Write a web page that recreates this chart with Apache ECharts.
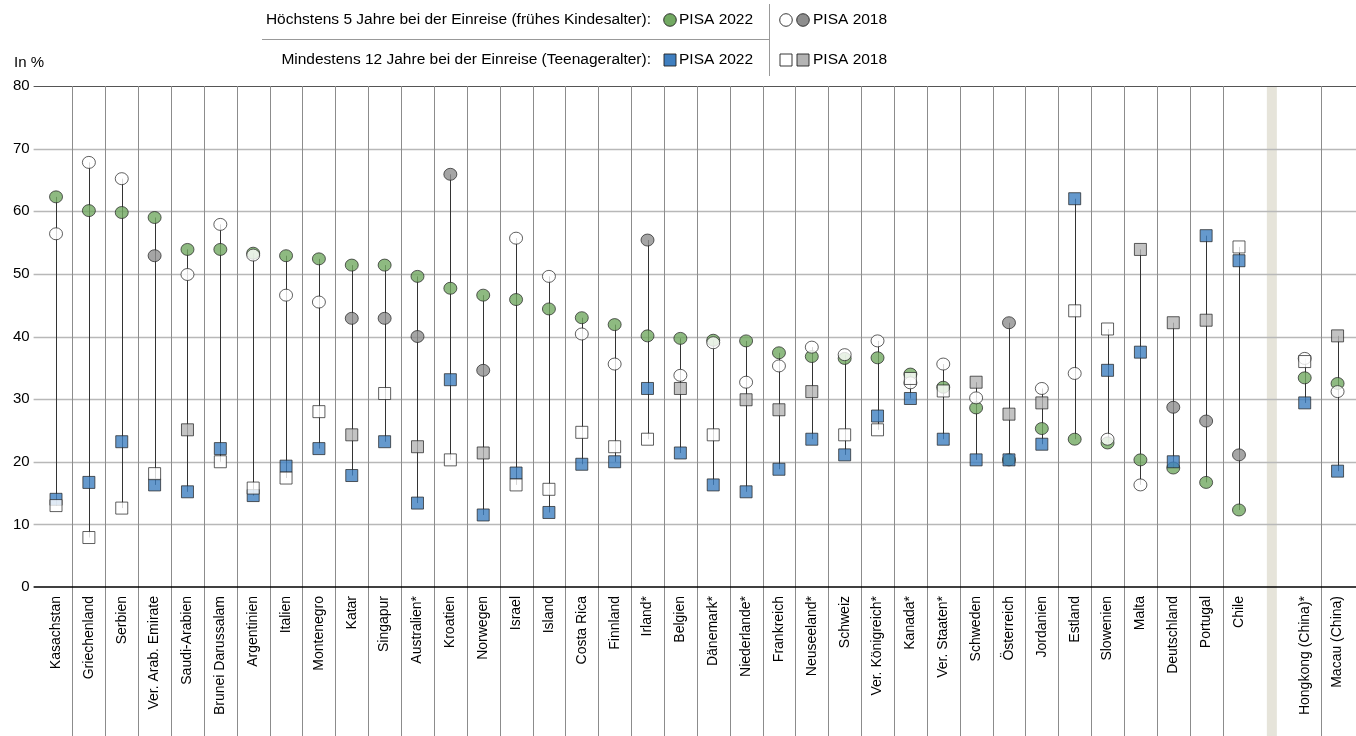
<!DOCTYPE html>
<html><head><meta charset="utf-8">
<script src="https://cdn.jsdelivr.net/npm/echarts@6/dist/echarts.min.js"></script>
<style>html,body{margin:0;padding:0;background:#fff}#c{width:1356px;height:736px}</style>
</head><body><div id="c"></div>
<script>
// ---------- DATA ----------
const categories = ['Kasachstan','Griechenland','Serbien','Ver. Arab. Emirate','Saudi-Arabien','Brunei Darussalam','Argentinien','Italien','Montenegro','Katar','Singapur','Australien*','Kroatien','Norwegen','Israel','Island','Costa Rica','Finnland','Irland*','Belgien','Dänemark*','Niederlande*','Frankreich','Neuseeland*','Schweiz','Ver. Königreich*','Kanada*','Ver. Staaten*','Schweden','Österreich','Jordanien','Estland','Slowenien','Malta','Deutschland','Portugal','Chile','','Hongkong (China)*','Macau (China)'];

// Höchstens 5 Jahre bei der Einreise – PISA 2022 (green circle)
const early2022 = [62.3,60.1,59.8,59.0,53.9,53.9,53.3,52.9,52.4,51.4,51.4,49.6,47.7,46.6,45.9,44.4,43.0,41.9,40.1,39.7,39.4,39.3,37.4,36.8,36.5,36.6,34.0,31.9,28.6,20.3,25.3,23.6,23.0,20.3,19.0,16.7,12.3,null,33.4,32.5];
// Höchstens 5 Jahre – PISA 2018 (circle)
const early2018 = [56.4,67.8,65.2,52.9,49.9,57.9,53.0,46.6,45.5,42.9,42.9,40.0,65.9,34.6,55.7,49.6,40.4,35.6,55.4,33.8,39.0,32.7,35.3,38.3,37.1,39.3,32.6,35.6,30.2,42.2,31.7,34.1,23.6,16.3,28.7,26.5,21.1,null,36.5,31.2];
// 1 = grey (filled) marker, 0 = white marker
const early2018Grey = [0,0,0,1,0,0,0,0,0,1,1,1,1,1,0,0,0,0,1,0,0,0,0,0,0,0,0,0,0,1,0,0,0,0,1,1,1,0,0,0];
// Mindestens 12 Jahre bei der Einreise – PISA 2022 (blue square)
const teen2022 = [14.0,16.7,23.2,16.3,15.2,22.1,14.6,19.3,22.1,17.8,23.2,13.4,33.1,11.5,18.2,11.9,19.6,20.0,31.7,21.4,16.3,15.2,18.8,23.6,21.1,27.3,30.1,23.6,20.3,20.3,22.8,62.0,34.6,37.5,20.0,56.1,52.1,null,29.4,18.5];
// Mindestens 12 Jahre – PISA 2018 (square)
const teen2018 = [13.0,7.9,12.6,18.1,25.1,20.0,15.8,17.4,28.0,24.3,30.9,22.4,20.3,21.4,16.3,15.6,24.7,22.4,23.6,31.7,24.3,29.9,28.3,31.2,24.3,25.1,33.3,31.3,32.7,27.6,29.4,44.1,41.2,53.9,42.2,42.6,54.3,null,36.0,40.1];
const teen2018Grey = [0,0,0,0,1,0,0,0,0,1,0,1,0,1,0,0,0,0,0,1,0,1,1,1,0,0,0,0,1,1,1,0,0,1,1,1,0,0,0,1];

const yMin = 0, yMax = 80, yStep = 10;
const yTicks = [0, 10, 20, 30, 40, 50, 60, 70, 80];

// ---------- STYLE ----------
const FONT = '"Liberation Sans", Arial, sans-serif';
const GREEN = '#72a962', BLUE = '#3f7fc0', GREY_C = '#8e8e8e', GREY_S = '#b4b4b4', EDGE = '#222';
const gapIndex = categories.indexOf('');

function pts(vals, grey, onCol, offCol) {
  return vals.map((v, i) => v == null ? null : {
    value: [i, v],
    itemStyle: { color: grey ? (grey[i] ? onCol : offCol) : onCol }
  });
}
const rangeData = [];
categories.forEach((c, i) => {
  const vs = [early2022[i], early2018[i], teen2022[i], teen2018[i]].filter(v => v != null);
  if (vs.length) rangeData.push([i, Math.min(...vs), Math.max(...vs)]);
});
const boundaryData = [];
categories.forEach((c, i) => {
  if (i === 0) return;
  if (i === gapIndex || i === gapIndex + 1) return;
  boundaryData.push([i, yMax]);
});
const hLineData = yTicks.filter(v => v !== yMin).map(v => [0, v]);

const chart = echarts.init(document.getElementById('c'), null, { renderer: 'canvas' });

const markerBase = { type: 'scatter', symbolSize: 12, animation: false, itemStyle: { borderColor: EDGE, borderWidth: 0.9 } };
const LF = '15.5px ' + FONT;

chart.setOption({
  animation: false,
  textStyle: { fontFamily: FONT },
  grid: { left: 39.6, right: 2, top: 86, bottom: 149, containLabel: false },
  xAxis: {
    type: 'category', data: categories, boundaryGap: true,
    axisLine: { show: false },
    axisTick: { show: false },
    splitLine: { show: false },
    axisLabel: { interval: 0, rotate: 90, fontSize: 14, color: '#000', margin: 9, fontFamily: FONT }
  },
  yAxis: {
    type: 'value', min: yMin, max: yMax, interval: yStep,
    axisLine: { show: false }, axisTick: { show: false },
    axisLabel: { fontSize: 15, color: '#000', margin: 10, fontFamily: FONT },
    splitLine: { show: false }
  },
  graphic: [
    { type: 'text', left: 14, top: 55, style: { text: 'In %', font: '15px ' + FONT, fill: '#000' } },
    // legend row 1
    { type: 'text', x: 651, y: 20, style: { text: 'Höchstens 5 Jahre bei der Einreise (frühes Kindesalter):', font: LF, fill: '#000', align: 'right', verticalAlign: 'middle' } },
    { type: 'circle', shape: { cx: 670, cy: 20, r: 6.3 }, style: { fill: GREEN, stroke: EDGE, lineWidth: 0.9 } },
    { type: 'text', x: 679, y: 20, style: { text: 'PISA 2022', font: LF, fill: '#000', verticalAlign: 'middle' } },
    { type: 'circle', shape: { cx: 786, cy: 20, r: 6.3 }, style: { fill: '#fff', stroke: EDGE, lineWidth: 0.9 } },
    { type: 'circle', shape: { cx: 803, cy: 20, r: 6.3 }, style: { fill: GREY_C, stroke: EDGE, lineWidth: 0.9 } },
    { type: 'text', x: 813, y: 20, style: { text: 'PISA 2018', font: LF, fill: '#000', verticalAlign: 'middle' } },
    // separators
    { type: 'line', shape: { x1: 262, y1: 39.5, x2: 769, y2: 39.5 }, style: { stroke: '#999', lineWidth: 1 } },
    { type: 'line', shape: { x1: 769.5, y1: 4, x2: 769.5, y2: 76 }, style: { stroke: '#999', lineWidth: 1 } },
    // legend row 2
    { type: 'text', x: 651, y: 60, style: { text: 'Mindestens 12 Jahre bei der Einreise (Teenageralter):', font: LF, fill: '#000', align: 'right', verticalAlign: 'middle' } },
    { type: 'rect', shape: { x: 664, y: 54, width: 12, height: 12 }, style: { fill: BLUE, stroke: EDGE, lineWidth: 0.9 } },
    { type: 'text', x: 679, y: 60, style: { text: 'PISA 2022', font: LF, fill: '#000', verticalAlign: 'middle' } },
    { type: 'rect', shape: { x: 780, y: 54, width: 12, height: 12 }, style: { fill: '#fff', stroke: EDGE, lineWidth: 0.9 } },
    { type: 'rect', shape: { x: 797, y: 54, width: 12, height: 12 }, style: { fill: GREY_S, stroke: EDGE, lineWidth: 0.9 } },
    { type: 'text', x: 813, y: 60, style: { text: 'PISA 2018', font: LF, fill: '#000', verticalAlign: 'middle' } }
  ],
  series: [
    { // gap band
      type: 'custom', z: 1, clip: false, silent: true,
      data: [[gapIndex, yMax]],
      renderItem: (params, api) => {
        const c = api.coord([api.value(0), api.value(1)]);
        return { type: 'rect', shape: { x: c[0] - 5, y: c[1], width: 10, height: api.getHeight() - c[1] }, style: { fill: '#e6e4da' } };
      }
    },
    { // horizontal grid lines
      type: 'custom', z: 1.5, clip: false, silent: true,
      data: hLineData,
      renderItem: (params, api) => {
        const c = api.coord([api.value(0), api.value(1)]);
        const w = api.size([1, 0])[0];
        const y = Math.round(c[1]) + 0.5;
        const top = api.value(1) === yMax;
        return { type: 'line', shape: { x1: c[0] - w / 2 - 6, y1: y, x2: api.getWidth(), y2: y }, style: { stroke: top ? '#555' : '#b8b8b8', lineWidth: top ? 1.2 : 1.6 } };
      }
    },
    { // category boundaries
      type: 'custom', z: 2, clip: false, silent: true,
      data: boundaryData,
      renderItem: (params, api) => {
        const c = api.coord([api.value(0), api.value(1)]);
        const w = api.size([1, 0])[0];
        const x = Math.round(c[0] - w / 2) + 0.5;
        return { type: 'line', shape: { x1: x, y1: c[1], x2: x, y2: api.getHeight() }, style: { stroke: '#8c8c8c', lineWidth: 1 } };
      }
    },
    { // zero axis line
      type: 'custom', z: 2.5, clip: false, silent: true,
      data: [[0, yMin]],
      renderItem: (params, api) => {
        const c = api.coord([api.value(0), api.value(1)]);
        const w = api.size([1, 0])[0];
        return { type: 'line', shape: { x1: c[0] - w / 2 - 6, y1: c[1], x2: api.getWidth(), y2: c[1] }, style: { stroke: '#000', lineWidth: 1.5 } };
      }
    },
    { // range lines
      type: 'custom', z: 3, silent: true,
      data: rangeData,
      encode: { x: 0, y: [1, 2] },
      renderItem: (params, api) => {
        const p1 = api.coord([api.value(0), api.value(1)]);
        const p2 = api.coord([api.value(0), api.value(2)]);
        const x = Math.round(p1[0]) + 0.5;
        return { type: 'line', shape: { x1: x, y1: p1[1], x2: x, y2: p2[1] }, style: { stroke: '#333', lineWidth: 1 } };
      }
    },
    Object.assign({}, markerBase, { name: 'early2022', z: 4, symbol: 'circle', symbolSize: [13, 12], data: pts(early2022, null, GREEN) }),
    Object.assign({}, markerBase, { name: 'teen2022', z: 5, symbol: 'rect', data: pts(teen2022, null, BLUE) }),
    Object.assign({}, markerBase, { name: 'early2018', z: 6, symbol: 'circle', symbolSize: [13, 12], data: pts(early2018, early2018Grey, GREY_C, '#fff') }),
    Object.assign({}, markerBase, { name: 'teen2018', z: 7, symbol: 'rect', data: pts(teen2018, teen2018Grey, GREY_S, '#fff') })
  ]
});
</script>
</body></html>
